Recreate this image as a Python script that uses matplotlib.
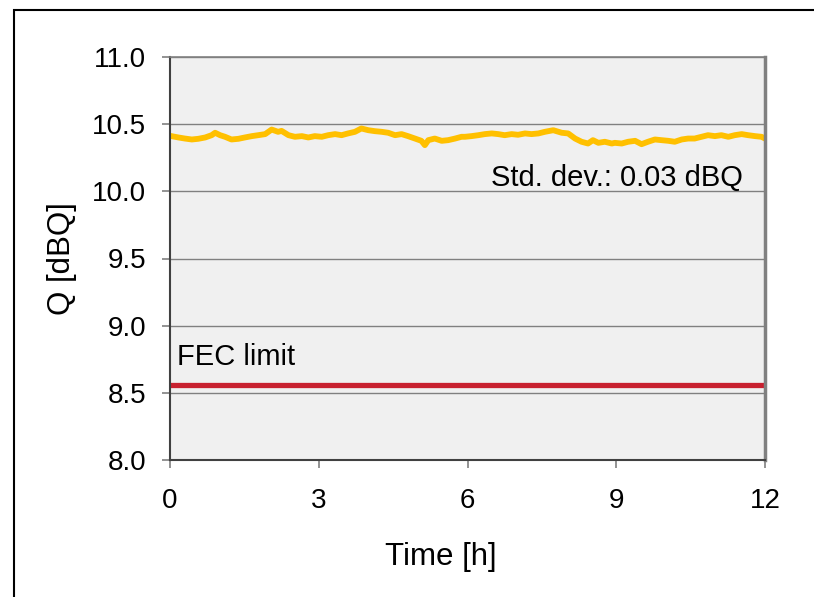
import numpy as np
import matplotlib
matplotlib.use('Agg')
import matplotlib.pyplot as plt
from matplotlib.patches import Rectangle

plt.rcParams['font.family'] = ['Liberation Sans', 'DejaVu Sans']

time_h = [0.03, 0.17, 0.30, 0.44, 0.57, 0.71, 0.84, 0.91, 1.01, 1.11, 1.24, 1.38,
          1.51, 1.65, 1.78, 1.92, 2.05, 2.18, 2.25, 2.39, 2.52, 2.66, 2.79, 2.92,
          3.06, 3.19, 3.33, 3.46, 3.59, 3.73, 3.86, 4.00, 4.13, 4.27, 4.40, 4.54,
          4.67, 4.80, 4.94, 5.07, 5.14, 5.21, 5.34, 5.48, 5.61, 5.75, 5.88,
          5.95, 6.08, 6.22, 6.35, 6.49, 6.62, 6.75, 6.89, 7.02, 7.16, 7.29, 7.43,
          7.56, 7.73, 7.90, 8.03, 8.17, 8.30, 8.43, 8.53, 8.64, 8.77, 8.91,
          8.97, 9.11, 9.24, 9.38, 9.51, 9.64, 9.78, 9.91, 10.05, 10.18, 10.32,
          10.45, 10.58, 10.72, 10.85, 10.99, 11.12, 11.26, 11.39, 11.53, 11.66,
          11.80, 11.93, 12.0]
q_db = [10.411, 10.401, 10.393, 10.386, 10.391, 10.401, 10.418, 10.436, 10.418, 10.406, 10.386, 10.391,
        10.401, 10.411, 10.418, 10.426, 10.460, 10.443, 10.450, 10.418, 10.406, 10.411, 10.401, 10.411,
        10.406, 10.418, 10.426, 10.418, 10.431, 10.443, 10.468, 10.455, 10.448, 10.443, 10.436, 10.418,
        10.426, 10.411, 10.393, 10.376, 10.344, 10.381, 10.393, 10.376, 10.381, 10.393, 10.406,
        10.406, 10.411, 10.418, 10.426, 10.431, 10.426, 10.418, 10.426, 10.421, 10.431, 10.426, 10.431,
        10.443, 10.455, 10.436, 10.431, 10.393, 10.369, 10.356, 10.381, 10.361, 10.369, 10.356,
        10.361, 10.356, 10.369, 10.376, 10.351, 10.369, 10.386, 10.381, 10.376, 10.369, 10.386,
        10.393, 10.393, 10.406, 10.418, 10.411, 10.418, 10.406, 10.418, 10.426, 10.418,
        10.411, 10.406, 10.393]

fec_limit = 8.56
x_ticks = [0, 3, 6, 9, 12]
y_ticks = [8.0, 8.5, 9.0, 9.5, 10.0, 10.5, 11.0]

fig = plt.figure(figsize=(8.14, 5.97), dpi=100)
ax = fig.add_axes([170/814, 137/597, 595/814, 403/597])

# 그림 테두리
fig.patches.append(Rectangle((14/814, -0.1), 1.0, 1 - 10/597 + 0.1,
                             transform=fig.transFigure, fill=False,
                             edgecolor='black', linewidth=1.5))

ax.set_facecolor('#F0F0F0')
ax.grid(axis='y', color='#808080', linewidth=1.0)
ax.set_axisbelow(True)

ax.plot([0, 12], [fec_limit, fec_limit], color='#C8202F', linewidth=3.8, solid_capstyle='butt')
ax.plot(time_h, q_db, color='#FFC000', linewidth=4.2)

ax.set_xlim(0, 12)
ax.set_ylim(8.0, 11.0)
ax.set_xticks(x_ticks)
ax.set_yticks(y_ticks)
ax.set_yticklabels([f'{v:.1f}' for v in y_ticks])

ax.tick_params(axis='both', labelsize=20, direction='out', length=6, color='#808080', width=1.2)
ax.tick_params(axis='x', pad=14)
ax.tick_params(axis='y', pad=11)

for side in ['left', 'bottom']:
    ax.spines[side].set_color('#404040')
    ax.spines[side].set_linewidth(1.5)
ax.spines['right'].set_color('#808080')
ax.spines['right'].set_linewidth(2.5)
ax.spines['top'].set_color('#808080')
ax.spines['top'].set_linewidth(1.2)

ax.set_xlabel('Time [h]', fontsize=22.5, va='center')
ax.xaxis.set_label_coords((441 - 170) / 595, (460 - 557) / 403)
ax.set_ylabel('Q [dBQ]', fontsize=22.5, va='center')
ax.yaxis.set_label_coords((62 - 170) / 595, 0.5)

ax.text(11.55, 10.10, 'Std. dev.: 0.03 dBQ', fontsize=21, ha='right', va='center')
ax.text(0.14, 8.77, 'FEC limit', fontsize=21, ha='left', va='center')

fig.savefig('out.png', dpi=100)
